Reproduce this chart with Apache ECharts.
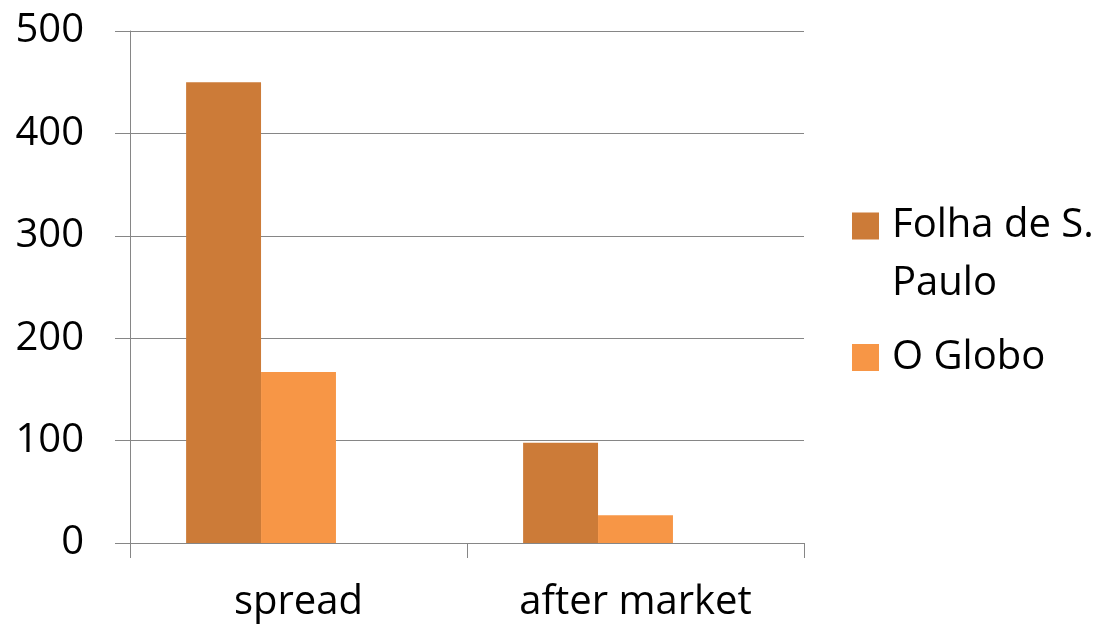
<!DOCTYPE html>
<html>
<head>
<meta charset="utf-8">
<script src="https://cdn.jsdelivr.net/npm/echarts@6/dist/echarts.min.js"></script>
<style>
html,body{margin:0;padding:0;background:#fff;}
#chart{width:1103px;height:627px;}
</style>
</head>
<body>
<div id="chart"></div>
<script>
const categories = ['spread', 'after market'];
const seriesNames = ['Folha de S. Paulo', 'O Globo', ''];
const folhaValues = [450, 98];
const globoValues = [167, 27];
const emptyValues = [null, null];
const yTicks = [0, 100, 200, 300, 400, 500];

const FONT = 'Open Sans';
const chart = echarts.init(document.getElementById('chart'));
chart.setOption({
  animation: false,
  grid: {left: 130, right: 299, top: 31, bottom: 84, containLabel: false},
  legend: {
    orient: 'vertical',
    left: 847,
    top: 192,
    itemWidth: 27,
    itemHeight: 85,
    itemGap: 2,
    selectedMode: false,
    data: [
      {name: seriesNames[0], icon: 'path://M0 0H27V27H0Z M0 84.9H0.1V85H0Z'},
      {name: seriesNames[1], icon: 'path://M0 29H27V56H0Z M0 0H0.1V0.1H0Z M0 84.9H0.1V85H0Z'}
    ],
    formatter: function (n) { return n.replace('S. ', 'S.\n'); },
    textStyle: {fontFamily: FONT, fontSize: 40, color: '#000', lineHeight: 58, padding: [0, 0, 0, 8]}
  },
  xAxis: {
    type: 'category',
    data: categories,
    axisLine: {show: true, lineStyle: {color: '#868686', width: 1}},
    axisTick: {show: true, length: 15, alignWithLabel: false, lineStyle: {color: '#868686'}},
    axisLabel: {fontFamily: FONT, fontSize: 40, color: '#000', margin: 40}
  },
  yAxis: {
    type: 'value',
    min: 0, max: 500, interval: 100,
    axisLine: {show: true, lineStyle: {color: '#868686', width: 1}},
    axisTick: {show: true, length: 15, lineStyle: {color: '#868686'}},
    splitLine: {show: true, lineStyle: {color: '#868686', width: 1}},
    axisLabel: {fontFamily: FONT, fontSize: 40, color: '#000', margin: 46,
      formatter: function (v) { return yTicks.indexOf(v) >= 0 ? String(v) : ''; }}
  },
  series: [
    {name: seriesNames[0], type: 'bar', data: folhaValues, barGap: '0%', barCategoryGap: '33.3%',
     itemStyle: {color: '#CC7B38'}},
    {name: seriesNames[1], type: 'bar', data: globoValues, barGap: '0%', barCategoryGap: '33.3%',
     itemStyle: {color: '#F79646'}},
    {name: seriesNames[2], type: 'bar', data: emptyValues, barGap: '0%', barCategoryGap: '33.3%',
     itemStyle: {color: '#9BBB59'}}
  ]
});
</script>
</body>
</html>
